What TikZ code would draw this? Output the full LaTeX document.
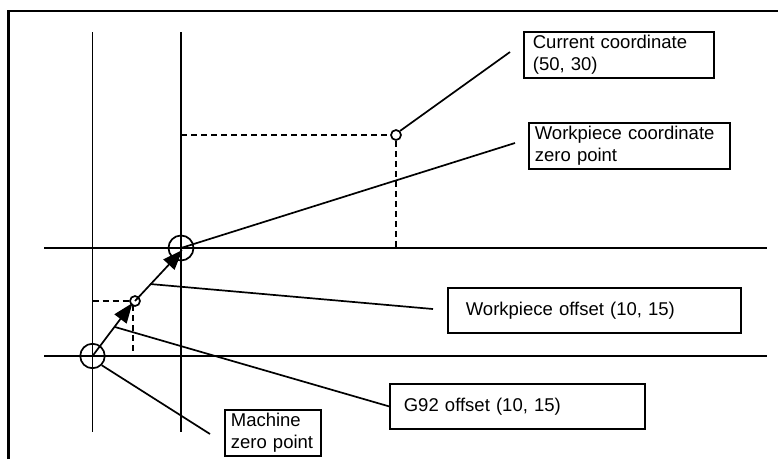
\documentclass[tikz,border=0pt]{standalone}
\usepackage{fontspec}
\setmainfont{Liberation Sans}
\usetikzlibrary{arrows.meta,calc}
\begin{document}
\begin{tikzpicture}[x=1pt,y=-1pt,
  ln/.style={line width=1.7pt},
  dashline/.style={line width=1.7pt,dash pattern=on 6pt off 4pt},
  circ/.style={draw,circle,line width=1.7pt,inner sep=0pt},
  arr/.style={line width=1.7pt,-{Triangle[length=20pt,width=15pt]}},
  lbl/.style={draw,line width=1.7pt,align=left,anchor=north west,inner ysep=0pt,
    font=\fontsize{18.5}{22}\selectfont}]
\useasboundingbox (0,0) rectangle (778,459);
% frame
\coordinate (f1) at (8.5,459);
\coordinate (f2) at (8.5,11);
\coordinate (f3) at (778,11);
\draw[line width=2.2pt] (f1) -- (f2) -- (f3);
% axes
\coordinate (v1t) at (92.5,32); \coordinate (v1b) at (92.5,432);
\coordinate (v2t) at (181,32);  \coordinate (v2b) at (181,432);
\coordinate (h1l) at (44,248);  \coordinate (h1r) at (767,248);
\coordinate (h2l) at (44,356);  \coordinate (h2r) at (767,356);
\draw[ln] (v1t) -- (v1b);
\draw[ln] (v2t) -- (v2b);
\draw[ln] (h1l) -- (h1r);
\draw[ln] (h2l) -- (h2r);
% points
\node[circ,minimum size=24.5pt] (mz) at (92.5,356) {};
\node[circ,minimum size=25pt] (wz) at (181,248) {};
\node[circ,minimum size=10pt] (g) at (135,301) {};
\node[circ,minimum size=10pt] (cc) at (396,135) {};
% dashed
\coordinate (gl) at (92.5,301);
\coordinate (gb) at (133,353);
\coordinate (gt) at (133,305);
\draw[dashline] (gl) -- (g.west);
\draw[dashline] (gt) -- (gb);
\coordinate (cl) at (181,135);
\coordinate (cb) at (396,248);
\draw[dashline] (cl) -- (cc.west);
\draw[dashline] (cc.south) -- (cb);
% arrows
\coordinate (a1) at (132.5,303);
\coordinate (a2) at (182.5,250);
\draw[arr] (mz.center) -- (a1);
\draw[arr] (g.center) -- (a2);
% boxes
\node[lbl,minimum width=190pt,minimum height=46pt,inner xsep=9pt,text width=172pt] (cur) at (523,31) {Current coordinate\\(50, 30)};
\node[lbl,minimum width=201pt,minimum height=46pt,inner xsep=6pt,text width=189pt] (wcz) at (528,122) {Workpiece coordinate\\zero point};
\node[lbl,minimum width=293pt,minimum height=45pt,inner xsep=18pt,text width=257pt] (wo) at (447,287) {Workpiece offset (10, 15)};
\node[lbl,minimum width=255pt,minimum height=45pt,inner xsep=14pt,text width=227pt] (g92) at (389,383) {G92 offset (10, 15)};
\node[lbl,minimum width=96pt,minimum height=46pt,inner xsep=6pt,text width=84pt] (mzb) at (224,409) {Machine\\zero point};
% leaders
\coordinate (e1) at (510,52);
\draw[ln] (cc.north east) -- (e1);
\coordinate (e2) at (515,143);
\draw[ln] (wz.center) -- (e2);
\coordinate (s3) at (150,284);
\coordinate (e3) at (433,309);
\draw[ln] (s3) -- (e3);
\coordinate (s4) at (115,327);
\draw[ln] (s4) -- (g92.west);
\coordinate (e5) at (210,434);
\draw[ln] (mz.south east) -- (e5);
\end{tikzpicture}
\end{document}
